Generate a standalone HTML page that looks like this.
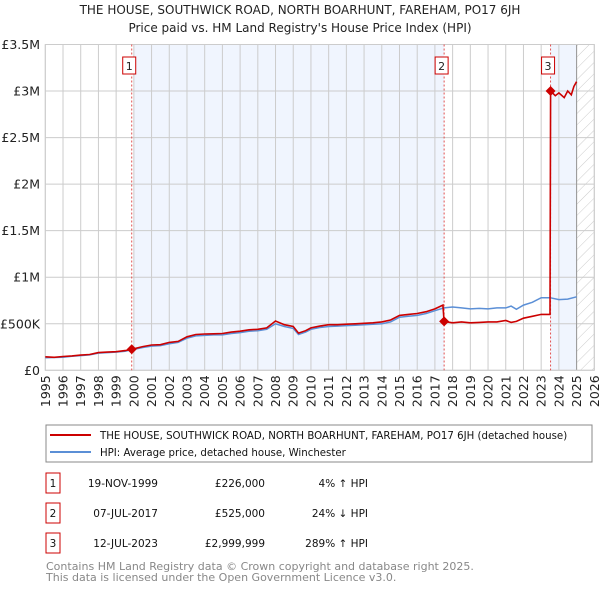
<!DOCTYPE html>
<html><head><meta charset="utf-8"><style>
body{margin:0;background:#fff;width:600px;height:590px;overflow:hidden;font-family:"DejaVu Sans","Liberation Sans",sans-serif;}
svg text{font-family:"DejaVu Sans","Liberation Sans",sans-serif;}
</style></head><body>
<svg id="chart" width="600" height="590" viewBox="0 0 600 590" xmlns="http://www.w3.org/2000/svg">
<defs><pattern id="hatch" width="8" height="8" patternUnits="userSpaceOnUse" patternTransform="rotate(45)"><line x1="0" y1="0" x2="0" y2="8" stroke="#ccc" stroke-width="1"/></pattern></defs>
<text x="300" y="14" text-anchor="middle" font-size="12" fill="#222">THE HOUSE, SOUTHWICK ROAD, NORTH BOARHUNT, FAREHAM, PO17 6JH</text>
<text x="300" y="32" text-anchor="middle" font-size="12" fill="#222">Price paid vs. HM Land Registry's House Price Index (HPI)</text>
<g id="plot"></g>
<g>
<rect x="46" y="425" width="546" height="37" fill="#fff" stroke="#888"/>
<line x1="50" y1="435" x2="91" y2="435" stroke="#cc0000" stroke-width="2"/>
<text x="100" y="439" font-size="10.2" fill="#111">THE HOUSE, SOUTHWICK ROAD, NORTH BOARHUNT, FAREHAM, PO17 6JH (detached house)</text>
<line x1="50" y1="452" x2="91" y2="452" stroke="#5b8fd6" stroke-width="2"/>
<text x="100" y="456" font-size="10.2" fill="#111">HPI: Average price, detached house, Winchester</text>
</g>
<g id="table" font-size="10.5" fill="#111"></g>
<text x="46" y="570" font-size="11" fill="#888">Contains HM Land Registry data © Crown copyright and database right 2025.</text>
<text x="46" y="581" font-size="11" fill="#888">This data is licensed under the Open Government Licence v3.0.</text>
</svg>
<script>
const hpiYears=[1995,1995.5,1996,1996.5,1997,1997.5,1998,1998.5,1999,1999.5,2000,2000.5,2001,2001.5,2002,2002.5,2003,2003.5,2004,2004.5,2005,2005.5,2006,2006.5,2007,2007.5,2008,2008.5,2009,2009.3,2009.7,2010,2010.5,2011,2011.5,2012,2012.5,2013,2013.5,2014,2014.5,2015,2015.5,2016,2016.5,2017,2017.5,2018,2018.5,2019,2019.5,2020,2020.5,2021,2021.3,2021.6,2022,2022.5,2023,2023.5,2024,2024.5,2025];
const hpiValues=[135,138,140,150,158,165,185,190,195,205,225,245,260,265,285,300,345,370,375,380,380,395,405,420,425,440,500,470,450,385,410,440,460,470,475,480,485,490,495,500,520,570,580,590,610,640,670,680,670,660,665,660,670,670,690,655,700,730,780,780,760,765,790];
const redYears=[1995,1995.5,1996,1996.5,1997,1997.5,1998,1998.5,1999,1999.5,1999.88,2000.5,2001,2001.5,2002,2002.5,2003,2003.5,2004,2004.5,2005,2005.5,2006,2006.5,2007,2007.5,2008,2008.5,2009,2009.3,2009.7,2010,2010.5,2011,2011.5,2012,2012.5,2013,2013.5,2014,2014.5,2015,2015.5,2016,2016.5,2017,2017.45,2017.52,2018,2018.5,2019,2019.5,2020,2020.5,2021,2021.3,2021.6,2022,2022.5,2023,2023.5,2023.53,2023.8,2024,2024.3,2024.5,2024.7,2024.85,2025];
const redValues=[145,140,148,155,163,170,190,196,200,212,226,255,272,275,300,310,360,385,390,392,395,410,420,435,440,455,530,490,470,400,425,455,475,490,490,495,500,505,510,520,540,590,600,610,630,660,700,525,510,520,510,515,520,520,535,515,525,560,580,600,600,3000,2950,2980,2930,3000,2960,3050,3100];
const saleYears=[1999.88,2017.52,2023.53];
const saleValues=[226,525,3000];
const saleLabels=["1","2","3"];
const yTicks=[0,500,1000,1500,2000,2500,3000,3500];
const yTickLabels=["£0","£500K","£1M","£1.5M","£2M","£2.5M","£3M","£3.5M"];
const xTicks=[];for(let y=1995;y<=2026;y++)xTicks.push(y);
const tableDates=["19-NOV-1999","07-JUL-2017","12-JUL-2023"];
const tablePrices=["£226,000","£525,000","£2,999,999"];
const tableHpi=["4% ↑ HPI","24% ↓ HPI","289% ↑ HPI"];

const NS="http://www.w3.org/2000/svg";
const L=45.3,R=594.3,T=44.5,B=370.3;
const xs=y=>L+(y-1995)/(2026-1995)*(R-L);
const ys=v=>B-v/3500*(B-T);
function mk(tag,attrs,parent){const e=document.createElementNS(NS,tag);for(const k in attrs)e.setAttribute(k,attrs[k]);parent.appendChild(e);return e;}
const plot=document.getElementById('plot');
mk('rect',{x:L,y:T,width:R-L,height:B-T,fill:'#fff'},plot);
let s=mk('rect',{x:xs(2000),y:T,width:xs(2017.52)-xs(2000),height:B-T,fill:'#f0f5fe'},plot);


s=mk('rect',{x:xs(2023.53),y:T,width:xs(2025)-xs(2023.53),height:B-T,fill:'#f0f5fe'},plot);


s=mk('rect',{x:xs(2025),y:T,width:R-xs(2025),height:B-T,fill:'url(#hatch)'},plot);


xTicks.forEach(y=>{mk('line',{x1:xs(y),y1:T,x2:xs(y),y2:B,stroke:'#ccc','stroke-width':1},plot);
 const t=mk('text',{x:0,y:0,transform:`translate(${xs(y)+4.5},${B+5}) rotate(-90)`,'text-anchor':'end','font-size':12.5,fill:'#222'},plot);t.textContent=y;
 
 });
yTicks.forEach((v,i)=>{mk('line',{x1:L,y1:ys(v),x2:R,y2:ys(v),stroke:'#ccc','stroke-width':1},plot);
 const t=mk('text',{x:40,y:ys(v)+4.5,'text-anchor':'end','font-size':12.5,fill:'#222'},plot);t.textContent=yTickLabels[i];
 
 });
mk('line',{x1:xs(2025),y1:T,x2:xs(2025),y2:B,stroke:'#999','stroke-width':1},plot);
mk('rect',{x:L,y:T,width:R-L,height:B-T,fill:'none',stroke:'#ccc'},plot);
saleYears.forEach(y=>mk('line',{x1:xs(y),y1:T,x2:xs(y),y2:B,stroke:'#e05050','stroke-width':1,'stroke-dasharray':'2,2'},plot));
const pts=(xa,va)=>xa.map((x,i)=>xs(x).toFixed(1)+','+ys(va[i]).toFixed(1)).join(' ');
let p=mk('polyline',{points:pts(hpiYears,hpiValues),fill:'none',stroke:'#5b8fd6','stroke-width':1.5},plot);


p=mk('polyline',{points:pts(redYears,redValues),fill:'none',stroke:'#cc0000','stroke-width':1.6},plot);


saleYears.forEach((y,i)=>{const cx=xs(y),cy=ys(saleValues[i]);
 const d=mk('polygon',{points:`${cx},${cy-5} ${cx+5},${cy} ${cx},${cy+5} ${cx-5},${cy}`,fill:'#cc0000'},plot);
 
 
 const g=mk('g',{},plot);
 
 
 mk('rect',{x:cx-9,y:57,width:13,height:17,fill:'#fff',stroke:'#cc0000'},g);
 const t=mk('text',{x:cx-2.5,y:70,'text-anchor':'middle','font-size':11,fill:'#222'},g);t.textContent=saleLabels[i];});
const tb=document.getElementById('table');
[483,513,543].forEach((yy,i)=>{
 const g=mk('g',{},tb);
 
 
 mk('rect',{x:46,y:yy-10,width:14,height:20,fill:'#fff',stroke:'#cc0000'},g);
 let t=mk('text',{x:53,y:yy+4,'text-anchor':'middle'},g);t.textContent=saleLabels[i];
 t=mk('text',{x:158,y:yy+4,'text-anchor':'end'},g);t.textContent=tableDates[i];
 t=mk('text',{x:265,y:yy+4,'text-anchor':'end'},g);t.textContent=tablePrices[i];
 t=mk('text',{x:368,y:yy+4,'text-anchor':'end'},g);t.textContent=tableHpi[i];
});
</script>
</body></html>
